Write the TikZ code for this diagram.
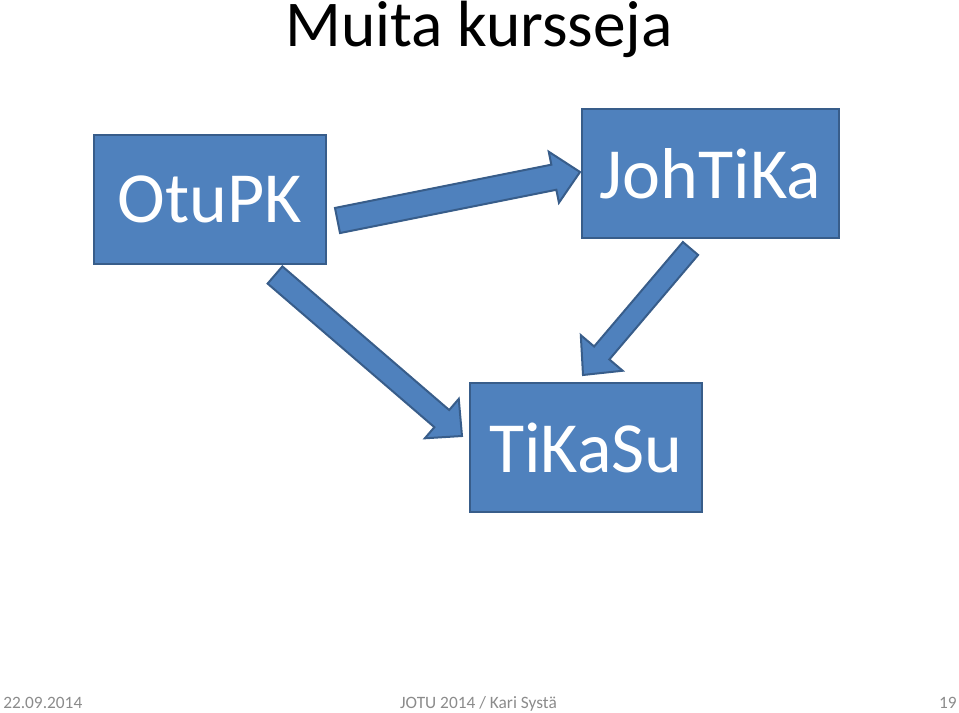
\documentclass[tikz,border=0pt]{standalone}
\usepackage{fontspec}
\setmainfont{Carlito}
\usetikzlibrary{calc}
\definecolor{boxblue}{HTML}{4F81BD}
\definecolor{boxedge}{HTML}{385D8A}
\definecolor{footgray}{HTML}{8B8B8B}

\begin{document}
\begin{tikzpicture}
  [
    x=0.75pt, y=-0.75pt,
    course/.style={draw=boxedge,line width=1.5pt,fill=boxblue,text=white,
      font=\fontsize{54}{60}\selectfont,minimum height=96.75pt,inner sep=0pt},
    blockarrow/.style={draw=boxedge,line width=1.5pt,fill=boxblue,line join=miter},
    footer/.style={text=footgray,font=\fontsize{13}{15}\selectfont,inner sep=0pt}
  ]
  \useasboundingbox (0,0) rectangle (959,713);
  % title
  \node[font=\fontsize{49}{58}\selectfont,anchor=base,inner sep=0pt] (title) at (479,47) {Muita kursseja};
  % courses
  \node[course,minimum width=174pt] (otupk) at (210,199.5) {OtuPK};
  \node[course,minimum width=192.75pt] (johtika) at (710.5,173.5) {JohTiKa};
  \node[course,minimum width=174pt] (tikasu) at (586,447.5) {TiKaSu};
  % arrow ends
  \coordinate (otu-joh-tail) at (337.5,220.5);
  \coordinate (otu-joh-tip) at (580,172);
  \coordinate (otu-tik-tail) at (275,275);
  \coordinate (otu-tik-tip) at (462,436);
  \coordinate (joh-tik-tail) at (690.5,248.5);
  \coordinate (joh-tik-tip) at (583,375);
  % arrows
  \foreach \t/\h/\s/\w/\l in {otu-joh-tail/otu-joh-tip/9.6pt/19.5pt/20pt,
                              otu-tik-tail/otu-tik-tip/8.5pt/19.5pt/20pt,
                              joh-tik-tail/joh-tik-tip/7.5pt/20.6pt/21.7pt} {
    \draw[blockarrow] ($(\t)!\s!90:(\h)$)
      -- ($(\h)!\l!(\t)!\s!-90:(\t)$) -- ($(\h)!\l!(\t)!\w!-90:(\t)$)
      -- (\h)
      -- ($(\h)!\l!(\t)!\w!90:(\t)$) -- ($(\h)!\l!(\t)!\s!90:(\t)$)
      -- ($(\t)!\s!-90:(\h)$) -- cycle;
  }
  % footer
  \node[footer,anchor=base west] (date) at (3,708) {22.09.2014};
  \node[footer,anchor=base] (event) at (478.5,708) {JOTU 2014 / Kari Systä};
  \node[footer,anchor=base east] (page) at (957,708) {19};
\end{tikzpicture}
\end{document}
